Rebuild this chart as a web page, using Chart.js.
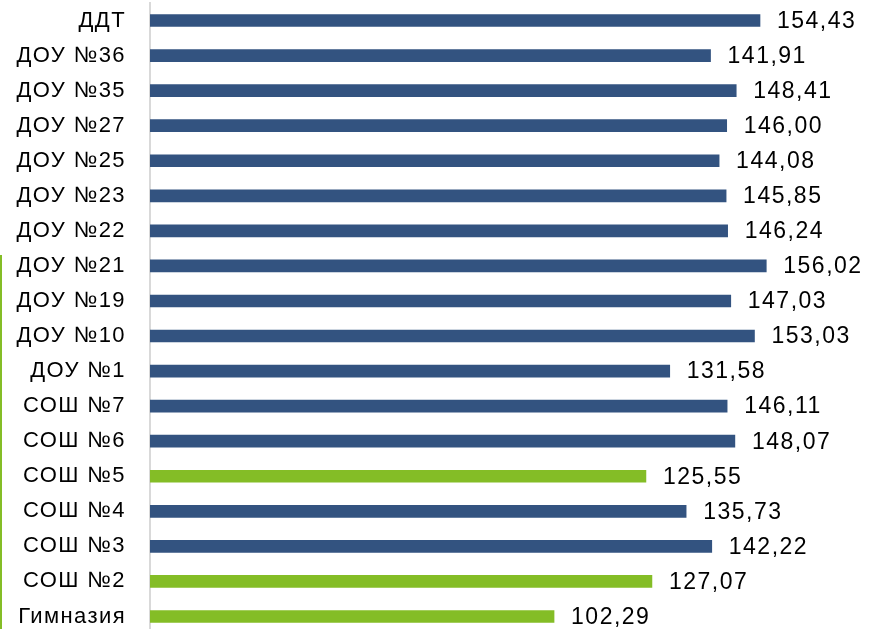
<!DOCTYPE html>
<html>
<head>
<meta charset="utf-8">
<script src="https://cdn.jsdelivr.net/npm/chart.js@4"></script>
<style>
    html, body { margin: 0; padding: 0; background: #fff; overflow: hidden; }
    #wrap { position: relative; width: 871px; height: 640px; }
    #edge { position: absolute; left: 0; top: 255px; width: 2px; height: 385px; background: #84bd26; }
</style>
</head>
<body>
<div id="wrap">
    <canvas id="chart" width="871" height="640"></canvas>
    <div id="edge"></div>
</div>
<script>
// Рейтинг учреждений
const categories = ['ДДТ', 'ДОУ №36', 'ДОУ №35', 'ДОУ №27', 'ДОУ №25', 'ДОУ №23', 'ДОУ №22', 'ДОУ №21',
    'ДОУ №19', 'ДОУ №10', 'ДОУ №1', 'СОШ №7', 'СОШ №6', 'СОШ №5', 'СОШ №4', 'СОШ №3', 'СОШ №2', 'Гимназия'];
const values = [154.43, 141.91, 148.41, 146.00, 144.08, 145.85, 146.24, 156.02,
    147.03, 153.03, 131.58, 146.11, 148.07, 125.55, 135.73, 142.22, 127.07, 102.29];
// highlighted (green) bars
const highlighted = ['СОШ №5', 'СОШ №2', 'Гимназия'];

const BLUE = '#335380';
const GREEN = '#84bd26';
const FONT = '"Liberation Sans", Arial, sans-serif';

// slightly wider letter spacing for axis labels
const spacing = {
    id: 'spacing',
    beforeDraw(chart) { chart.ctx.letterSpacing = '1.4px'; }
};

// Value labels to the right of bars
const valueLabels = {
    id: 'valueLabels',
    afterDatasetsDraw(chart) {
        const ctx = chart.ctx;
        const meta = chart.getDatasetMeta(0);
        ctx.save();
        ctx.font = '23px ' + FONT;
        ctx.letterSpacing = '1.5px';
        ctx.fillStyle = '#000';
        ctx.textAlign = 'left';
        ctx.textBaseline = 'middle';
        meta.data.forEach((bar, i) => {
            const text = values[i].toFixed(2).replace('.', ',');
            ctx.fillText(text, bar.x + 17, bar.y + 1);
        });
        ctx.restore();
    }
};

const ctx = document.getElementById('chart').getContext('2d');
new Chart(ctx, {
    type: 'bar',
    data: {
        labels: categories,
        datasets: [{
            data: values,
            backgroundColor: categories.map(c => highlighted.includes(c) ? GREEN : BLUE),
            barThickness: 12,
            borderWidth: 0
        }]
    },
    options: {
        indexAxis: 'y',
        responsive: false,
        animation: false,
        layout: { padding: { top: 3, right: 10, bottom: 6, left: 0 } },
        plugins: {
            legend: { display: false },
            tooltip: { enabled: false }
        },
        scales: {
            x: {
                display: false,
                min: 0,
                max: 180
            },
            y: {
                afterFit(scale) {
                    scale.width = 150;
                    scale.paddingTop = 0;
                    scale.paddingBottom = 0;
                },
                grid: { display: false, drawTicks: false },
                border: { display: true, color: '#d9d9d9', width: 2 },
                ticks: {
                    padding: 24,
                    color: '#000',
                    font: { family: FONT, size: 22 }
                }
            }
        }
    },
    plugins: [spacing, valueLabels]
});
</script>
</body>
</html>
